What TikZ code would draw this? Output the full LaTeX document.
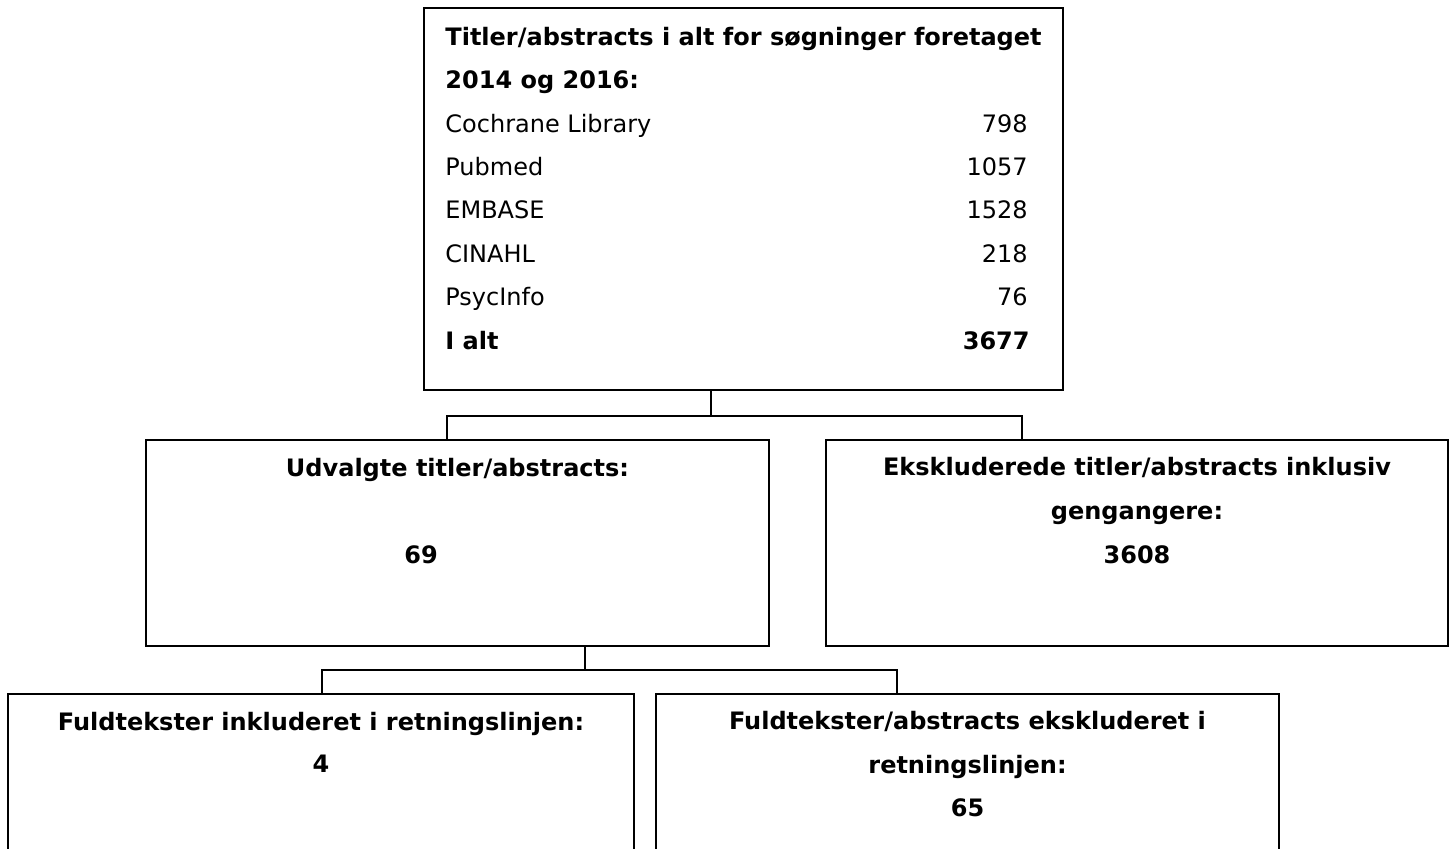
\documentclass[tikz,border=0pt]{standalone}
\usepackage{fontspec}
\setmainfont{DejaVu Sans}
\usepackage{tikz}
\tikzstyle{box}=[rectangle,draw,line width=1pt,inner sep=0pt,outer sep=0pt]
\tikzstyle{edge} = [draw,line width=1pt,-]
\tikzstyle{txt} = [inner sep=0pt,font=\fontsize{12}{14}\selectfont]
\tikzstyle{hd} = [txt,font=\fontsize{12}{14}\selectfont\bfseries]

\begin{document}
\begin{tikzpicture}[x=0.5pt,y=-0.5pt]
        \useasboundingbox (0,0) rectangle (1451,848);
        \clip (0,0) rectangle (1451,848);
        % boxes
        \node[box,minimum width=319.5pt,minimum height=191pt] (top) at (743.5,199) {};
        \node[box,minimum width=311.5pt,minimum height=103pt] (midl) at (457.5,543) {};
        \node[box,minimum width=311pt,minimum height=103pt] (midr) at (1137,543) {};
        \node[box,minimum width=313pt,minimum height=88pt] (botl) at (321,782) {};
        \node[box,minimum width=311.5pt,minimum height=88pt] (botr) at (967.5,782) {};
        % top box text
        \node[hd,anchor=base west] (t1) at (445,45) {Titler/abstracts i alt for søgninger foretaget};
        \node[hd,anchor=base west] (t2) at (445,88) {2014 og 2016:};
        \node[txt,anchor=base west] (db1) at (445,132) {Cochrane Library};
        \node[txt,anchor=base west] (db2) at (445,175) {Pubmed};
        \node[txt,anchor=base west] (db3) at (445,218) {EMBASE};
        \node[txt,anchor=base west] (db4) at (445,262) {CINAHL};
        \node[txt,anchor=base west] (db5) at (445,305) {PsycInfo};
        \node[hd,anchor=base west] (db6) at (445,349) {I alt};
        \node[txt,anchor=base east] (n1) at (1028,132) {798};
        \node[txt,anchor=base east] (n2) at (1028,175) {1057};
        \node[txt,anchor=base east] (n3) at (1028,218) {1528};
        \node[txt,anchor=base east] (n4) at (1028,262) {218};
        \node[txt,anchor=base east] (n5) at (1028,305) {76};
        \node[hd,anchor=base east] (n6) at (1030,349) {3677};
        % middle row
        \node[hd,anchor=base] (u1) at (457.5,476) {Udvalgte titler/abstracts:};
        \node[hd,anchor=base] (u2) at (421,563) {69};
        \node[hd,anchor=base] (e1) at (1137,475) {Ekskluderede titler/abstracts inklusiv};
        \node[hd,anchor=base] (e2) at (1137,519) {gengangere:};
        \node[hd,anchor=base] (e3) at (1137,563) {3608};
        % bottom row
        \node[hd,anchor=base] (f1) at (321,730) {Fuldtekster inkluderet i retningslinjen:};
        \node[hd,anchor=base] (f2) at (321,772) {4};
        \node[hd,anchor=base] (g1) at (967.5,729) {Fuldtekster/abstracts ekskluderet i};
        \node[hd,anchor=base] (g2) at (967.5,773) {retningslinjen:};
        \node[hd,anchor=base] (g3) at (967.5,816) {65};
        % connectors
        \coordinate (j1) at (711,416);
        \coordinate (j1l) at (447,416);
        \coordinate (j1r) at (1022,416);
        \coordinate (j2) at (585,670);
        \coordinate (j2l) at (322,670);
        \coordinate (j2r) at (897,670);
        \path[edge] (top.south -| j1) -- (j1);
        \path[edge] (midl.north -| j1l) -- (j1l) -- (j1r) -- (midr.north -| j1r);
        \path[edge] (midl.south -| j2) -- (j2);
        \path[edge] (botl.north -| j2l) -- (j2l) -- (j2r) -- (botr.north -| j2r);
    \end{tikzpicture}
\end{document}
